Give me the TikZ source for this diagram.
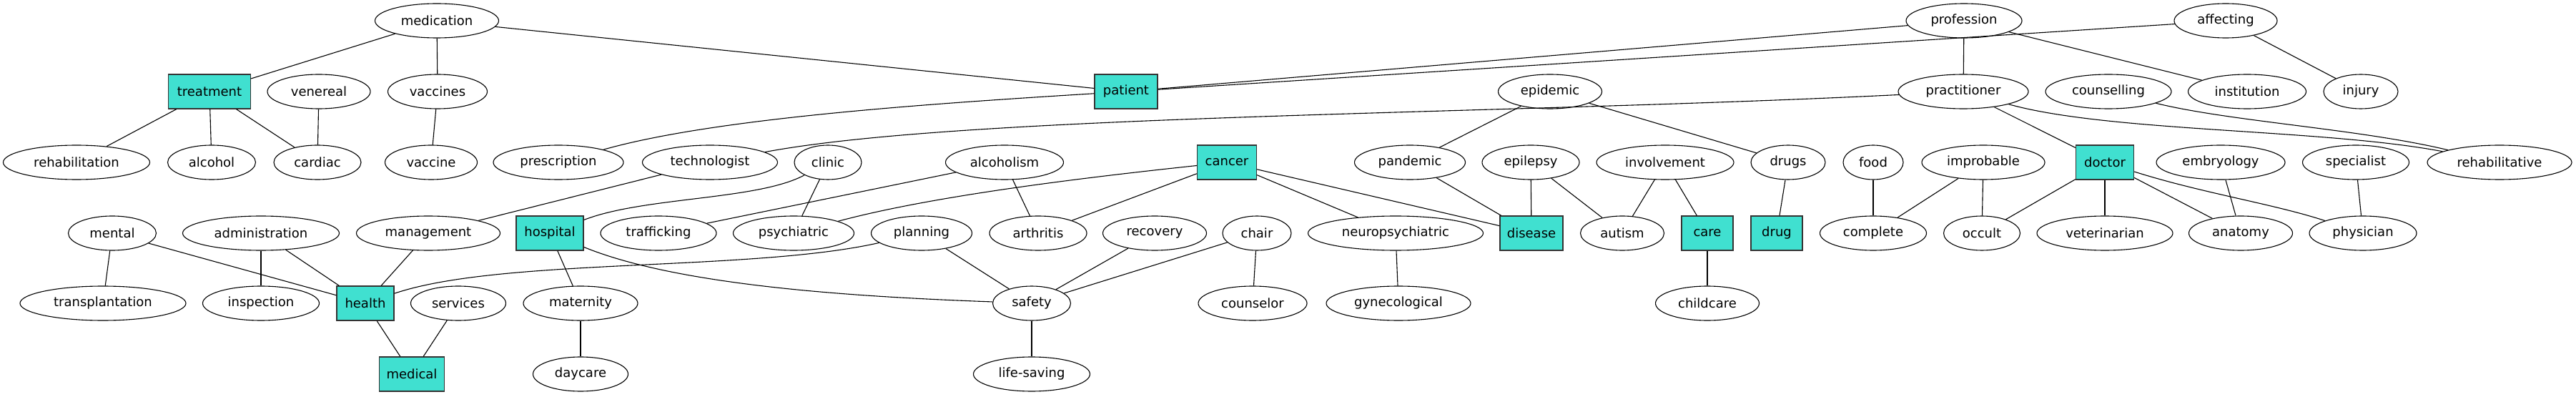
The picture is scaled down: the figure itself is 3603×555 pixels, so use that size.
\documentclass[tikz,border=0pt]{standalone}
\usepackage{fontspec}
\setmainfont{DejaVu Sans}
\usetikzlibrary{shapes.geometric}
\definecolor{turq}{RGB}{64,224,208}
\newcommand\En[5]{\node[el,minimum width=#4bp] (#1) at (#2,#3) {#5};}
\newcommand\Bx[5]{\node[bx,minimum width=#4bp] (#1) at (#2,#3) {#5};}
\begin{document}
\begin{tikzpicture}[x=1bp,y=-1bp,
  el/.style={ellipse,draw,line width=1.1bp,minimum height=48bp,inner sep=0pt,font=\fontsize{18bp}{20bp}\selectfont},
  bx/.style={rectangle,draw=black!80,fill=turq,line width=1.3bp,minimum height=48bp,inner sep=0pt,font=\fontsize{18bp}{20bp}\selectfont},
  ed/.style={line width=1.1bp}]
\fill[white] (0,0) rectangle (3603,555);
\useasboundingbox (0,0) rectangle (3603,555);
% row 1
\En{medication}{611}{29}{173}{medication}
\En{profession}{2747}{29}{162}{profession}
\En{affecting}{3113}{29}{144}{affecting}
% row 2
\Bx{treatment}{293}{128}{115}{treatment}
\En{venereal}{446}{128}{144}{venereal}
\En{vaccines}{612}{128}{139}{vaccines}
\Bx{patient}{1575}{128}{88}{patient}
\En{epidemic}{2168}{128}{145}{epidemic}
\En{practitioner}{2746}{128}{182}{practitioner}
\En{counselling}{2949}{128}{176}{counselling}
\En{institution}{3143}{128}{165}{institution}
\En{injury}{3302}{128}{104}{injury}
% row 3
\En{rehabilitation}{107}{227}{205}{rehabilitation}
\En{alcohol}{296}{227}{123}{alcohol}
\En{cardiac}{444}{227}{122}{cardiac}
\En{vaccine}{603}{227}{129}{vaccine}
\En{prescription}{781}{227}{182}{prescription}
\En{technologist}{993}{227}{189}{technologist}
\En{clinic}{1158}{227}{94}{clinic}
\En{alcoholism}{1405}{227}{165}{alcoholism}
\Bx{cancer}{1716}{227}{83}{cancer}
\En{pandemic}{1972}{227}{155}{pandemic}
\En{epilepsy}{2141}{227}{136}{epilepsy}
\En{involvement}{2329}{227}{192}{involvement}
\En{drugs}{2501}{227}{104}{drugs}
\En{food}{2620}{227}{84}{food}
\En{improbable}{2774}{227}{172}{improbable}
\Bx{doctor}{2944}{227}{81}{doctor}
\En{embryology}{3106}{227}{180}{embryology}
\En{specialist}{3295}{227}{149}{specialist}
\En{rehabilitative}{3496}{227}{202}{rehabilitative}
% row 4
\En{mental}{157}{326}{123}{mental}
\En{administration}{365}{326}{219}{administration}
\En{management}{599}{326}{201}{management}
\Bx{hospital}{769}{326}{94}{hospital}
\En{trafficking}{921}{326}{162}{trafficking}
\En{psychiatric}{1110}{326}{169}{psychiatric}
\En{planning}{1289}{326}{141}{planning}
\En{arthritis}{1452}{326}{136}{arthritis}
\En{recovery}{1615}{326}{145}{recovery}
\En{chair}{1758}{326}{96}{chair}
\En{neuropsychiatric}{1952}{326}{245}{neuropsychiatric}
\Bx{disease}{2142}{326}{88}{disease}
\En{autism}{2269}{326}{117}{autism}
\Bx{care}{2388}{326}{72}{care}
\Bx{drug}{2485}{326}{72}{drug}
\En{complete}{2620}{326}{149}{complete}
\En{occult}{2772}{326}{107}{occult}
\En{veterinarian}{2944}{326}{190}{veterinarian}
\En{anatomy}{3134}{326}{145}{anatomy}
\En{physician}{3305}{326}{150}{physician}
% row 5
\En{transplantation}{144}{424}{232}{transplantation}
\En{inspection}{365}{424}{163}{inspection}
\Bx{health}{511}{424}{80}{health}
\En{services}{641}{424}{133}{services}
\En{maternity}{812}{424}{160}{maternity}
\En{safety}{1443}{424}{109}{safety}
\En{counselor}{1752}{424}{152}{counselor}
\En{gynecological}{1956}{424}{202}{gynecological}
\En{childcare}{2388}{424}{145}{childcare}
% row 6
\Bx{medical}{576}{523}{91}{medical}
\En{daycare}{812}{523}{133}{daycare}
\En{lifesaving}{1443}{523}{163}{life-saving}
% edges
\begin{scope}[ed]
\draw (medication) -- (treatment);
\draw (medication) -- (vaccines);
\draw (medication) -- (patient);
\draw (treatment) -- (rehabilitation);
\draw (treatment) -- (alcohol);
\draw (treatment) -- (cardiac);
\draw (venereal) -- (cardiac);
\draw (vaccines) -- (vaccine);
\draw (patient) .. controls (1300,145) and (1000,165) .. (prescription);
\draw (patient) -- (profession);
\draw (patient) -- (affecting);
\draw (practitioner) .. controls (2100,160) and (1350,160) .. (technologist);
\draw (technologist) -- (management);
\draw (clinic) .. controls (1060,280) and (900,275) .. (hospital);
\draw (clinic) -- (psychiatric);
\draw (alcoholism) -- (trafficking);
\draw (alcoholism) -- (arthritis);
\draw (cancer) .. controls (1500,250) and (1300,275) .. (psychiatric);
\draw (cancer) -- (arthritis);
\draw (cancer) -- (neuropsychiatric);
\draw (cancer) -- (disease);
\draw (hospital) -- (maternity);
\draw (hospital) .. controls (950,400) and (1200,415) .. (safety);
\draw (planning) .. controls (1050,380) and (700,360) .. (health);
\draw (mental) -- (health);
\draw (administration) -- (inspection);
\draw (administration) -- (health);
\draw (management) -- (health);
\draw (health) -- (medical);
\draw (services) -- (medical);
\draw (maternity) -- (daycare);
\draw (mental) -- (transplantation);
\draw (planning) -- (safety);
\draw (recovery) -- (safety);
\draw (chair) -- (safety);
\draw (chair) -- (counselor);
\draw (safety) -- (lifesaving);
\draw (neuropsychiatric) -- (gynecological);
\draw (epidemic) -- (pandemic);
\draw (epidemic) -- (drugs);
\draw (pandemic) -- (disease);
\draw (epilepsy) -- (disease);
\draw (epilepsy) -- (autism);
\draw (involvement) -- (autism);
\draw (involvement) -- (care);
\draw (care) -- (childcare);
\draw (drugs) -- (drug);
\draw (food) -- (complete);
\draw (improbable) -- (complete);
\draw (improbable) -- (occult);
\draw (profession) -- (practitioner);
\draw (profession) -- (institution);
\draw (affecting) -- (injury);
\draw (practitioner) -- (doctor);
\draw (practitioner) .. controls (2950,185) and (3250,180) .. (rehabilitative);
\draw (counselling) .. controls (3120,170) and (3300,180) .. (rehabilitative);
\draw (doctor) -- (occult);
\draw (doctor) -- (veterinarian);
\draw (doctor) -- (anatomy);
\draw (doctor) .. controls (3080,270) and (3180,285) .. (physician);
\draw (embryology) -- (anatomy);
\draw (specialist) -- (physician);
\end{scope}
\end{tikzpicture}
\end{document}
